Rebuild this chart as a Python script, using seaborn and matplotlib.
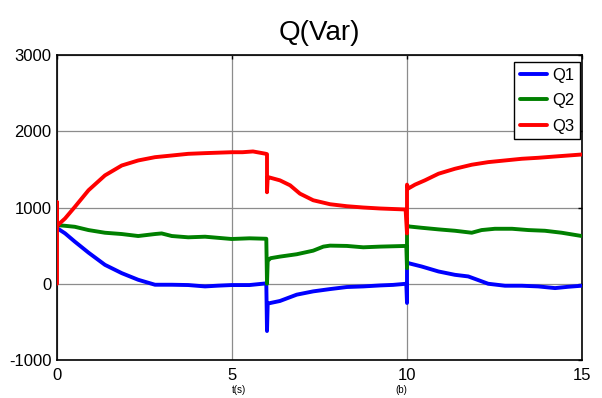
import pandas as pd
import matplotlib.pyplot as plt
import seaborn as sns

# time (s) and reactive power (Var)
t_q1 = [0, 0.23, 0.51, 0.90, 1.37, 1.85, 2.32, 2.80, 3.28, 3.75, 4.23, 4.60, 4.99, 5.50, 5.98,
        6.0, 6.02, 6.10, 6.37, 6.85, 7.32, 7.80, 8.28, 8.75, 9.23, 9.60, 9.98,
        10.0, 10.0, 10.04, 10.42, 10.90, 11.37, 11.75, 12.32, 12.80, 13.28, 13.75, 14.23, 14.60, 14.99]
q1 = [730, 661, 552, 408, 248, 139, 52, -13, -13, -17, -35, -25, -17, -17, 5,
      -620, -260, -252, -226, -143, -100, -70, -43, -35, -22, -15, 0,
      -252, 291, 270, 226, 161, 117, 96, 0, -26, -26, -35, -57, -40, -26]

t_q2 = [0, 0.23, 0.51, 0.90, 1.37, 1.85, 2.32, 2.80, 2.99, 3.28, 3.75, 4.23, 4.99, 5.50, 5.98,
        6.0, 6.02, 6.10, 6.37, 6.85, 7.32, 7.61, 7.80, 8.28, 8.75, 9.23, 9.98,
        10.0, 10.0, 10.04, 10.42, 10.90, 11.37, 11.85, 12.13, 12.51, 13.00, 13.47, 13.94, 14.42, 14.99]
q2 = [769, 760, 747, 704, 669, 652, 626, 652, 660, 626, 609, 617, 587, 596, 590,
      0, 300, 335, 356, 387, 434, 487, 500, 496, 478, 487, 496,
      205, 770, 752, 734, 713, 695, 669, 704, 721, 721, 704, 695, 669, 626]

t_q3 = [0, 0, 0, 0.23, 0.51, 0.90, 1.37, 1.85, 2.32, 2.80, 3.28, 3.75, 4.23, 4.99, 5.30, 5.60, 5.96,
        6.0, 6.0, 6.02, 6.10, 6.37, 6.66, 6.94, 7.32, 7.80, 8.28, 8.75, 9.23, 9.96,
        10.0, 10.0, 10.04, 10.23, 10.51, 10.90, 11.37, 11.85, 12.32, 12.80, 13.28, 13.75, 14.23, 14.99]
q3 = [0, 1070, 760, 856, 1008, 1226, 1421, 1551, 1617, 1660, 1682, 1704, 1713, 1725, 1725, 1735, 1705,
      1700, 1200, 1400, 1390, 1356, 1291, 1182, 1095, 1043, 1017, 1000, 987, 974,
      660, 1300, 1250, 1300, 1356, 1443, 1508, 1561, 1595, 1617, 1639, 1652, 1669, 1695]

series = [('Q1', t_q1, q1, '#0000FF'),
          ('Q2', t_q2, q2, '#008000'),
          ('Q3', t_q3, q3, '#FF0000')]

sns.set_style('white')
plt.rcParams['font.family'] = ['Liberation Sans', 'DejaVu Sans']
plt.rcParams['axes.unicode_minus'] = False
plt.rcParams['text.color'] = 'black'

fig = plt.figure(figsize=(6.02, 3.98), dpi=100)
ax = fig.add_axes([57 / 602, 1 - 360 / 398, 525 / 602, 305 / 398])

for name, t, q, col in series:
    df = pd.DataFrame({'t': t, 'Q': q})
    sns.lineplot(data=df, x='t', y='Q', sort=False, estimator=None,
                 color=col, lw=2.8, label=name, ax=ax, zorder=3)

ax.set_xlim(0, 15)
ax.set_ylim(-1000, 3000)
ax.set_xticks([0, 5, 10, 15])
ax.set_yticks([-1000, 0, 1000, 2000, 3000])
ax.set_xlabel('')
ax.set_ylabel('')
ax.grid(True, color='#8c8c8c', lw=0.9)
ax.tick_params(direction='in', length=3, width=1, top=True, right=True,
               labelsize=12, colors='black')
ax.tick_params(axis='x', pad=6)
ax.tick_params(axis='y', pad=4)
for s in ax.spines.values():
    s.set_color('black')
    s.set_linewidth(1.2)
    s.set_visible(True)

ax.set_title('Q(Var)', fontsize=20, pad=11, color='black')

leg = ax.legend(loc='upper right', bbox_to_anchor=(0.996, 0.977), borderaxespad=0,
                fontsize=12, frameon=True, fancybox=False, framealpha=1,
                edgecolor='black', handlelength=1.6, handletextpad=0.3,
                labelspacing=0.62, borderpad=0.35)
leg.get_frame().set_linewidth(1)
for txt in leg.get_texts():
    txt.set_color('black')

fig.text(239 / 602, 1 - 390 / 398, 't(s)', fontsize=7, ha='center', va='center')
fig.text(401 / 602, 1 - 390 / 398, '(b)', fontsize=7, ha='center', va='center')

fig.savefig('out.png', dpi=100)
